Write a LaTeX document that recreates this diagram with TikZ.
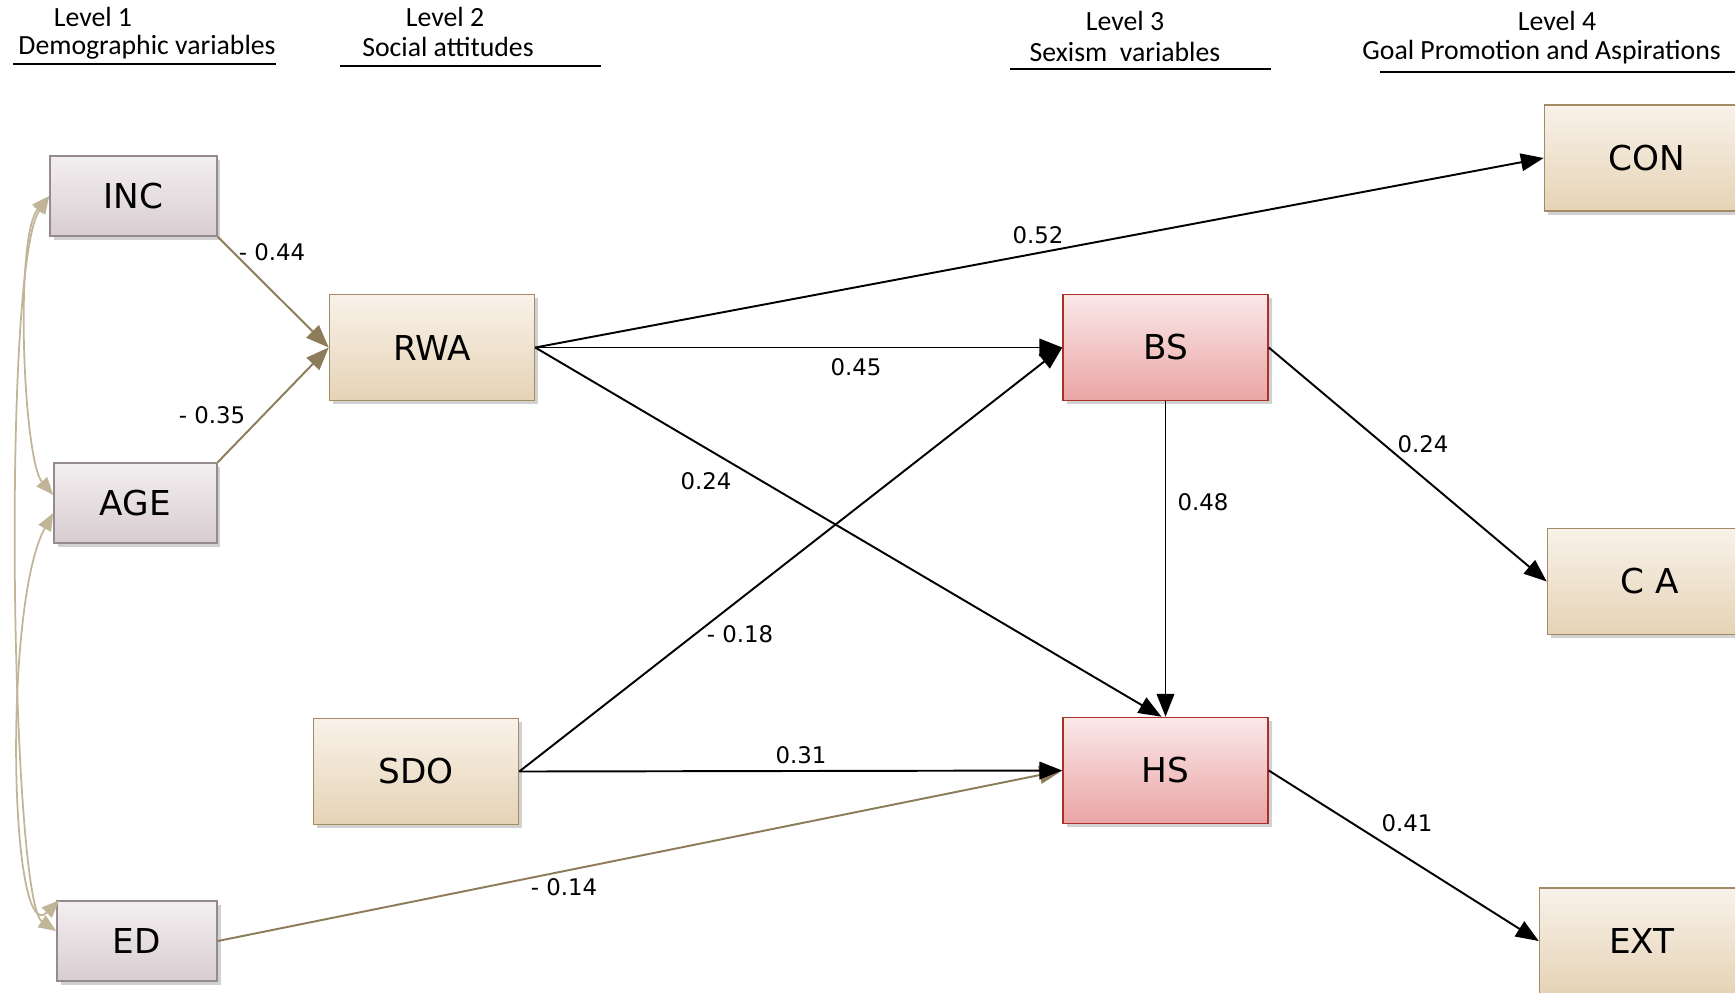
\documentclass[tikz,border=0pt]{standalone}
\usepackage{fontspec}
\setmainfont{DejaVu Sans}
\newfontfamily\hdrfont{Carlito}
\usetikzlibrary{arrows.meta,shadows}

\definecolor{demotop}{HTML}{F3EFF1}
\definecolor{demobot}{HTML}{D8CDD1}
\definecolor{demoline}{HTML}{958A8E}
\definecolor{atttop}{HTML}{F9F2EA}
\definecolor{attbot}{HTML}{E5D3B5}
\definecolor{attline}{HTML}{A38B66}
\definecolor{sextop}{HTML}{FAE8E9}
\definecolor{sexbot}{HTML}{EBA4A4}
\definecolor{sexline}{HTML}{A8322B}
\definecolor{pathtan}{HTML}{8C7C5A}
\definecolor{covtan}{HTML}{C0B596}

\begin{document}
\begin{tikzpicture}[x=0.02cm,y=0.02cm,
  box/.style={draw, line width=0.9pt, inner sep=0pt,
    font=\fontsize{19.5}{22}\selectfont,
    drop shadow={shadow xshift=2pt, shadow yshift=-2pt, opacity=0.3, fill=black!60}},
  demo/.style={box, draw=demoline, top color=demotop, bottom color=demobot,
    minimum height=1.6cm},
  att/.style={box, draw=attline, top color=atttop, bottom color=attbot,
    minimum width=4.1cm, minimum height=2.12cm},
  sex/.style={box, draw=sexline, top color=sextop, bottom color=sexbot,
    minimum width=4.1cm, minimum height=2.12cm},
  hdr/.style={inner sep=0pt, font=\hdrfont\fontsize{15.8}{17}\selectfont},
  coef/.style={inner sep=0pt, font=\fontsize{13}{15}\selectfont},
  rule/.style={line width=1.1pt},
  effect/.style={-{Triangle[length=13pt,width=10pt]}, line width=1.1pt},
  tanpath/.style={effect, draw=pathtan},
  cov/.style={{Triangle[length=10pt,width=8pt]}-{Triangle[length=10pt,width=8pt]},
    draw=covtan, line width=1pt}
]
\useasboundingbox (0,0) rectangle (1735,-992);
\clip (0,0) rectangle (1735,-992);

% level headings
\node[hdr] (h1a) at (93,-17) {Level 1};
\node[hdr] (h1b) at (147,-47) {Demographic variables};
\draw[rule] (13,-64) -- (276,-64);
\node[hdr] (h2a) at (445,-17) {Level 2};
\node[hdr] (h2b) at (448,-47) {Social attitudes};
\draw[rule] (340,-66) -- (601,-66);
\node[hdr] (h3a) at (1125,-21) {Level 3};
\node[hdr] (h3b) at (1125,-52) {Sexism\ \ variables};
\draw[rule] (1010,-69) -- (1271,-69);
\node[hdr] (h4a) at (1557,-21) {Level 4};
\node[hdr, anchor=west] (h4b) at (1362,-52) {Goal Promotion and Aspirations};
\draw[rule] (1380,-72) -- (1735,-72);

% level 1
\node[demo, minimum width=3.34cm] (INC) at (133.5,-196) {INC};
\node[demo, minimum width=3.26cm] (AGE) at (135.5,-503) {AGE};
\node[demo, minimum width=3.2cm]  (ED)  at (137,-941) {ED};
% level 2
\node[att] (RWA) at (432,-347.5) {RWA};
\node[att] (SDO) at (416,-771.5) {SDO};
% level 3
\node[sex] (BS) at (1165.5,-347.5) {BS};
\node[sex] (HS) at (1165.5,-770.5) {HS};
% level 4
\node[att] (CON) at (1647,-158) {CON};
\node[att] (CA)  at (1650,-581.5) {C A};
\node[att] (EXT) at (1642,-941) {EXT};

% covariances among demographics
\draw[cov] (INC.west) .. controls +(-35,-40) and +(-30,35) .. ([yshift=0.16cm]AGE.west);
\draw[cov] (INC.west) .. controls +(-48,-70) and +(-45,30) .. ([yshift=0.2cm]ED.west);
\draw[cov] ([yshift=-0.2cm]AGE.west) .. controls +(-50,-90) and +(-50,-50) .. ([xshift=0.06cm]ED.north west);

% paths
\draw[tanpath] (INC.south east) -- (RWA.west);
\draw[tanpath] (AGE.north east) -- (RWA.west);
\draw[tanpath] (ED.east) -- (HS.west);
\draw[effect] (RWA.east) -- (CON.west);
\draw[effect] (RWA.east) -- (BS.west);
\draw[effect] (RWA.east) -- ([xshift=-0.08cm]HS.north);
\draw[effect] (SDO.east) -- (BS.west);
\draw[effect] (SDO.east) -- (HS.west);
\draw[effect] (BS.south) -- (HS.north);
\draw[effect] (BS.east) -- (CA.west);
\draw[effect] (HS.east) -- (EXT.west);

% coefficients
\node[coef] (c1)  at (272,-252) {- 0.44};
\node[coef] (c2)  at (212,-415) {- 0.35};
\node[coef] (c3)  at (1038,-235) {0.52};
\node[coef] (c4)  at (856,-367) {0.45};
\node[coef] (c5)  at (706,-481) {0.24};
\node[coef] (c6)  at (1423,-444) {0.24};
\node[coef] (c7)  at (1203,-502) {0.48};
\node[coef] (c8)  at (740,-634) {- 0.18};
\node[coef] (c9)  at (801,-755) {0.31};
\node[coef] (c10) at (564,-887) {- 0.14};
\node[coef] (c11) at (1407,-823) {0.41};
\end{tikzpicture}
\end{document}
